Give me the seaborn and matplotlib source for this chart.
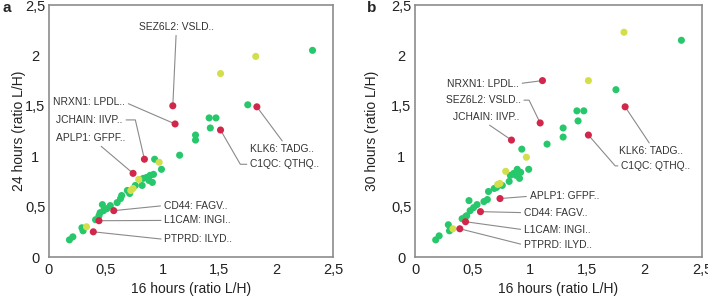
import matplotlib
matplotlib.use('Agg')
import matplotlib.pyplot as plt
import seaborn as sns
import pandas as pd

# ratios L/H, 16 hours on x, 24 h (panel a) and 30 h (panel b) on y
green_x = [2.32, 1.75, 1.41, 1.47, 1.42, 1.29, 1.29, 1.15, 0.93, 0.99,
           0.92, 0.89, 0.86, 0.83, 0.88, 0.91, 0.82, 0.76, 0.69, 0.71,
           0.64, 0.63, 0.60, 0.54, 0.47, 0.51, 0.48, 0.45, 0.44, 0.41,
           0.29, 0.30, 0.21, 0.18]
green_24h = [2.05, 1.51, 1.38, 1.38, 1.28, 1.21, 1.16, 1.01, 0.97, 0.87,
             0.82, 0.81, 0.79, 0.78, 0.76, 0.74, 0.71, 0.71, 0.66, 0.63,
             0.61, 0.58, 0.54, 0.51, 0.52, 0.48, 0.46, 0.44, 0.41, 0.37,
             0.29, 0.26, 0.20, 0.17]
green_30h = [2.15, 1.66, 1.45, 1.45, 1.35, 1.28, 1.19, 1.12, 1.07, 0.87,
             0.84, 0.87, 0.83, 0.81, 0.81, 0.78, 0.75, 0.71, 0.68, 0.69,
             0.65, 0.57, 0.55, 0.52, 0.56, 0.49, 0.46, 0.41, 0.40, 0.38,
             0.32, 0.26, 0.21, 0.17]

yellow_x = [1.82, 1.51, 0.97, 0.79, 0.74, 0.72, 0.33]
yellow_24h = [1.99, 1.82, 0.94, 0.77, 0.68, 0.66, 0.30]
yellow_30h = [2.23, 1.75, 0.99, 0.85, 0.73, 0.72, 0.28]

red_names = ['SEZ6L2: VSLD..', 'NRXN1: LPDL..', 'JCHAIN: IIVP..', 'APLP1: GFPF..',
             'KLK6: TADG..', 'C1QC: QTHQ..', 'CD44: FAGV..', 'L1CAM: INGI..',
             'PTPRD: ILYD..']
red_x = [1.09, 1.11, 0.84, 0.74, 1.83, 1.51, 0.57, 0.44, 0.39]
red_24h = [1.50, 1.32, 0.97, 0.83, 1.49, 1.26, 0.46, 0.36, 0.25]
red_30h = [1.33, 1.75, 1.16, 0.58, 1.49, 1.21, 0.45, 0.35, 0.28]

ticks = [0, 0.5, 1, 1.5, 2, 2.5]
tick_labels = ['0', '0,5', '1', '1,5', '2', '2,5']

colors = {'green': '#27c76c', 'yellow': '#d3df4a', 'red': '#d1274a'}

df = pd.DataFrame({
    'x': green_x + yellow_x + red_x,
    'h24': green_24h + yellow_24h + red_24h,
    'h30': green_30h + yellow_30h + red_30h,
    'group': ['green'] * len(green_x) + ['yellow'] * len(yellow_x) + ['red'] * len(red_x),
})

# label placement: text pos, ha, relpos, connection style
labels_a = {
    'SEZ6L2: VSLD..': ((1.12, 2.28), 'center', (0.5, 0), 'arc3'),
    'NRXN1: LPDL..': ((0.67, 1.535), 'right', (1, 0.5), 'arc3'),
    'JCHAIN: IIVP..': ((0.65, 1.36), 'right', (1, 0.5), 'angle,angleA=0,angleB=-77,rad=0'),
    'APLP1: GFPF..': ((0.67, 1.18), 'right', (0.6, 0), 'arc3'),
    'KLK6: TADG..': ((1.77, 1.07), 'left', (0.54, 1), 'arc3'),
    'C1QC: QTHQ..': ((1.77, 0.92), 'left', (0, 0.5), 'angle,angleA=0,angleB=120,rad=0'),
    'CD44: FAGV..': ((1.01, 0.51), 'left', (0, 0.5), 'arc3'),
    'L1CAM: INGI..': ((1.015, 0.363), 'left', (0, 0.5), 'arc3'),
    'PTPRD: ILYD..': ((1.015, 0.175), 'left', (0, 0.5), 'arc3'),
}
labels_b = {
    'NRXN1: LPDL..': ((0.905, 1.72), 'right', (1, 0.5), 'arc3'),
    'SEZ6L2: VSLD..': ((0.92, 1.556), 'right', (1, 0.5), 'angle,angleA=0,angleB=-64,rad=0'),
    'JCHAIN: IIVP..': ((0.33, 1.39), 'left', (0.48, 0), 'arc3'),
    'KLK6: TADG..': ((1.78, 1.05), 'left', (0.5, 1), 'arc3'),
    'C1QC: QTHQ..': ((1.795, 0.904), 'left', (0, 0.5), 'angle,angleA=0,angleB=131,rad=0'),
    'APLP1: GFPF..': ((0.998, 0.603), 'left', (0, 0.5), 'arc3'),
    'CD44: FAGV..': ((0.948, 0.44), 'left', (0, 0.5), 'arc3'),
    'L1CAM: INGI..': ((0.948, 0.27), 'left', (0, 0.5), 'arc3'),
    'PTPRD: ILYD..': ((0.948, 0.12), 'left', (0, 0.5), 'arc3'),
}

sns.set_theme(style='white')
plt.rcParams['font.family'] = ['Liberation Sans', 'DejaVu Sans']

fig = plt.figure(figsize=(7.08, 3.0), dpi=100)
ax_a = fig.add_axes([0.0692, 0.1433, 0.4011, 0.84])
ax_b = fig.add_axes([0.5862, 0.1433, 0.4054, 0.84])

panels = [(ax_a, 'h24', '24 hours (ratio L/H)', labels_a, red_24h, -0.08, 'a', 0.004),
          (ax_b, 'h30', '30 hours (ratio L/H)', labels_b, red_30h, -0.125, 'b', 0.518)]

for ax, col, ylab, labs, red_y, ylab_x, letter, lx in panels:
    sns.scatterplot(data=df, x='x', y=col, hue='group', palette=colors, s=26,
                    linewidth=0, legend=False, ax=ax, zorder=3)
    ax.set_xlim(0, 2.5)
    ax.set_ylim(0, 2.5)
    ax.set_xticks(ticks)
    ax.set_xticklabels(tick_labels)
    ax.set_yticks(ticks)
    ax.set_yticklabels(tick_labels)
    for t in ax.get_yticklabels():
        t.set_ha('center')
    ax.tick_params(axis='y', length=0, pad=10, labelsize=10.5, colors='#222222')
    ax.tick_params(axis='x', length=0, pad=4, labelsize=10.5, colors='#222222')
    ax.set_xlabel('16 hours (ratio L/H)', fontsize=10, color='#222222')
    ax.set_ylabel(ylab, fontsize=10, color='#222222')
    ax.xaxis.set_label_coords(0.5, -0.1)
    ax.yaxis.set_label_coords(ylab_x, 0.5)
    for sp in ax.spines.values():
        sp.set_color('#8c8c8c')
        sp.set_linewidth(1.2)

    for name, px, py in zip(red_names, red_x, red_y):
        pos, ha, rel, conn = labs[name]
        ax.annotate(name, xy=(px, py), xytext=pos, ha=ha, va='center',
                    fontsize=7.4, color='#333333', zorder=2,
                    arrowprops=dict(arrowstyle='-', color='#8a8a8a', lw=0.8,
                                    relpos=rel, connectionstyle=conn,
                                    shrinkA=0, shrinkB=2))

    fig.text(lx, 0.975, letter, fontsize=11, fontweight='bold', va='center', ha='left')

fig.savefig('out.png', dpi=100)
